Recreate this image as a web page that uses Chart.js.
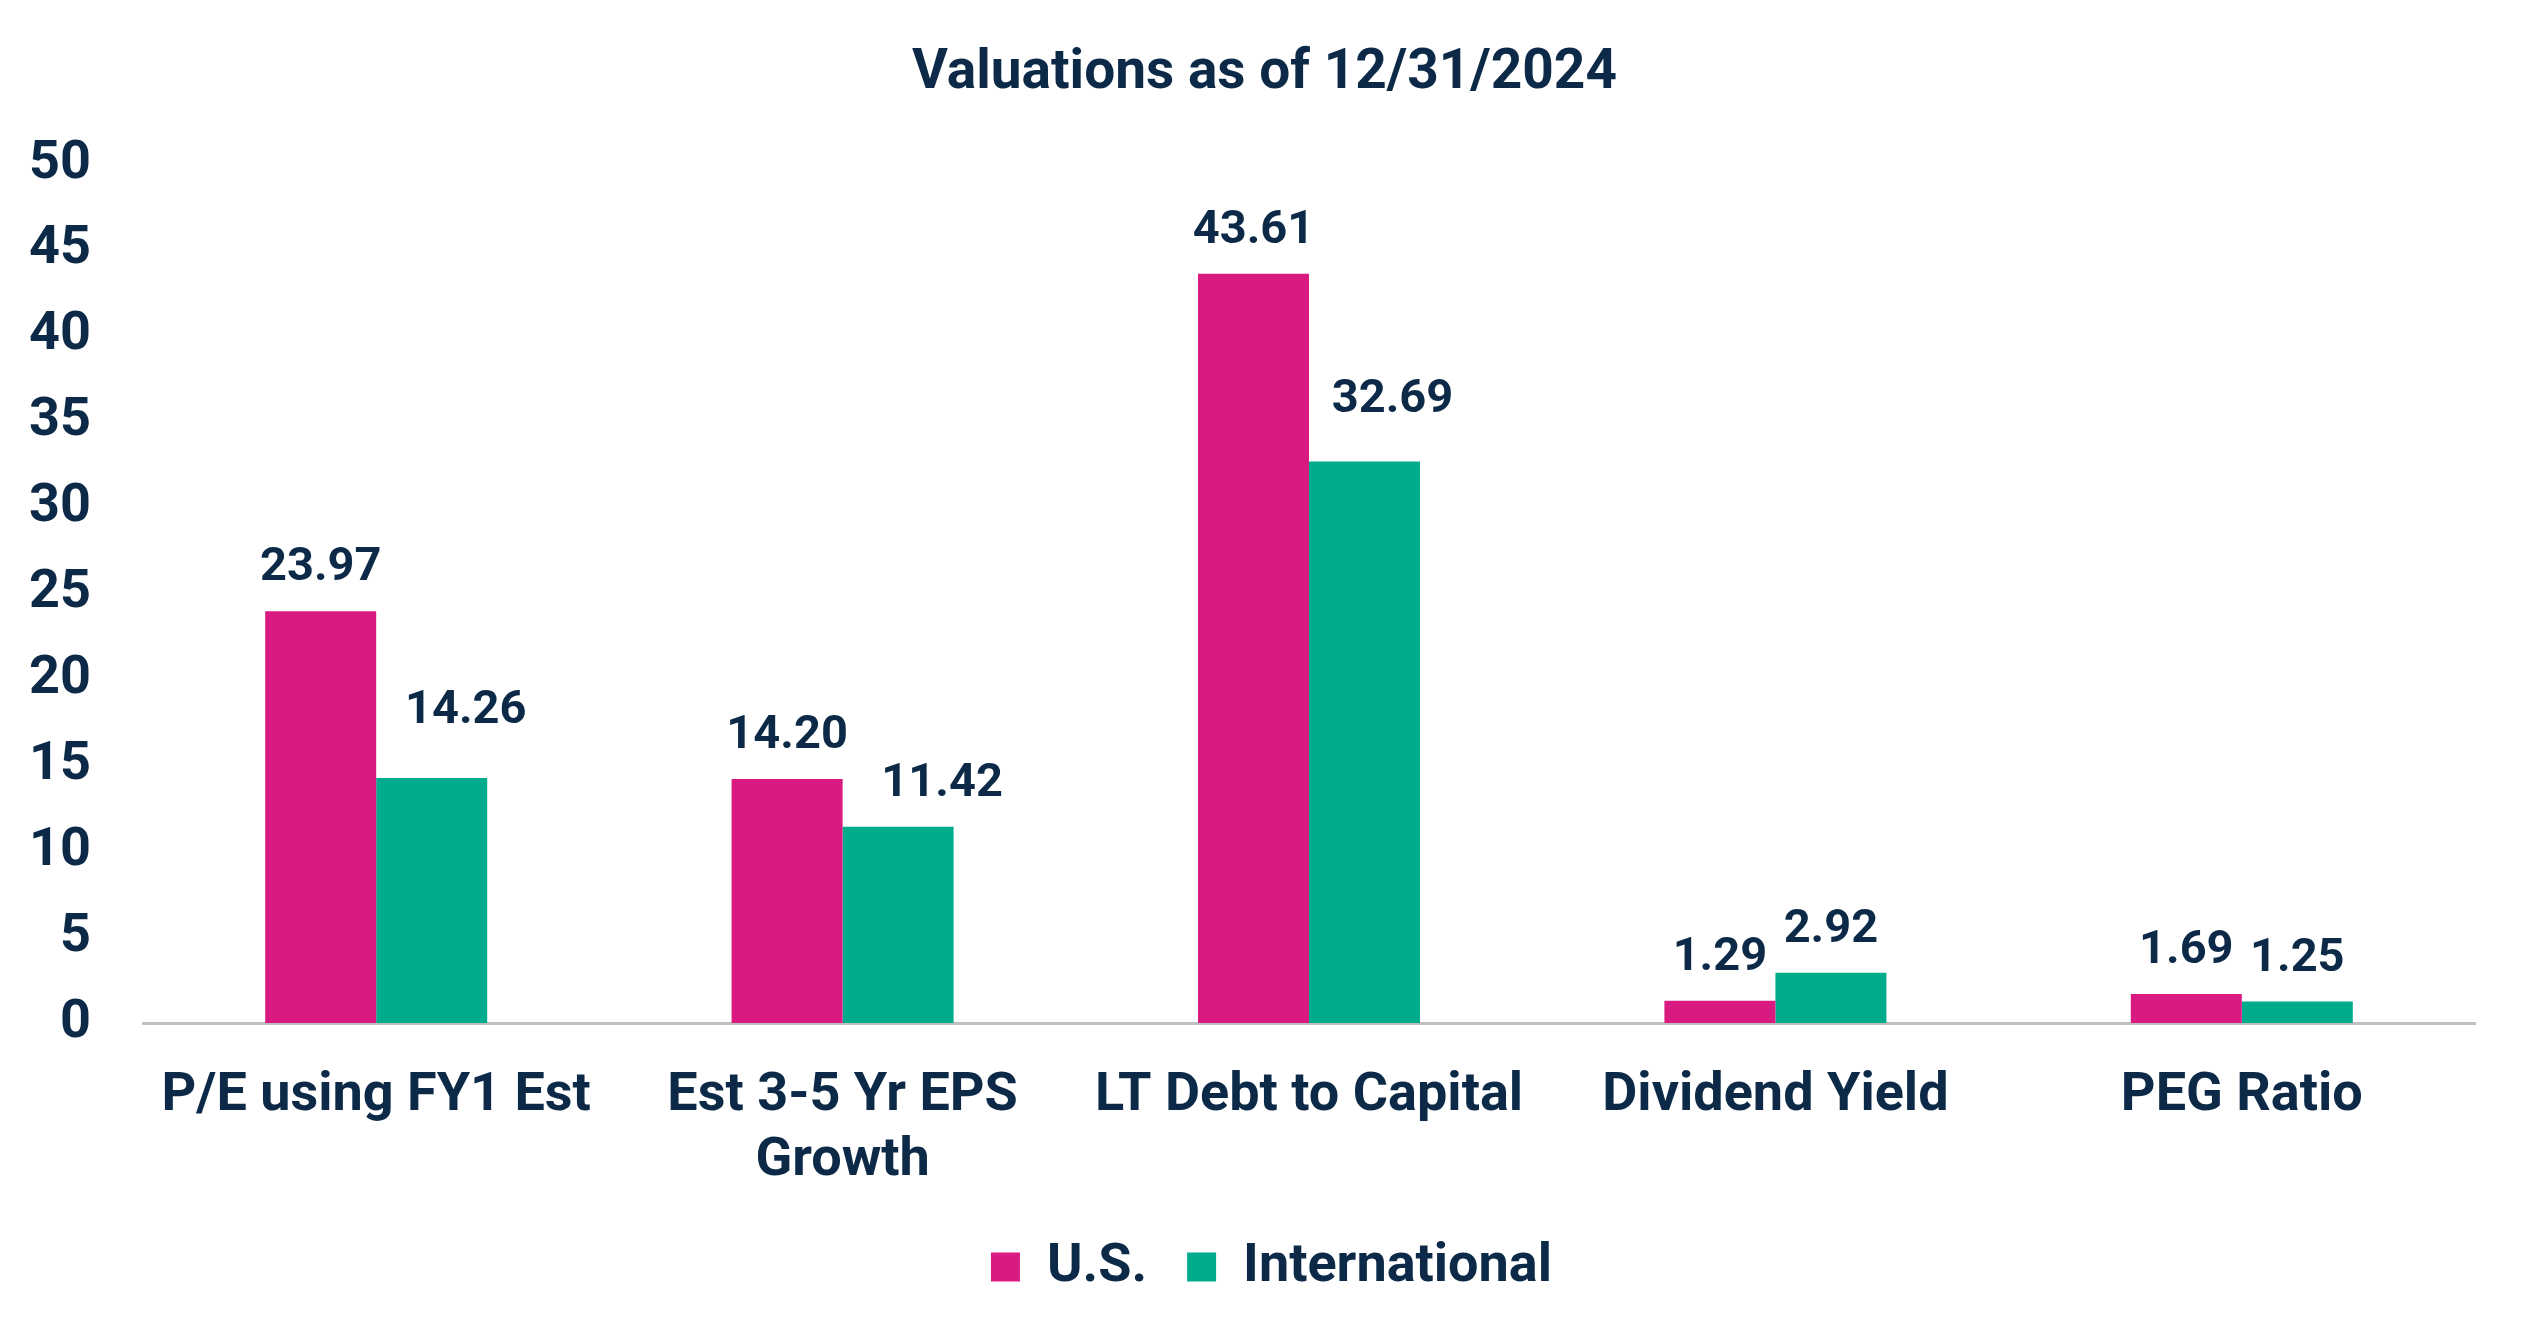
<!DOCTYPE html>
<html>
<head>
<meta charset="utf-8">
<script src="https://cdn.jsdelivr.net/npm/chart.js@4"></script>
<style>
  html, body { margin: 0; padding: 0; background: #fff; }
  #wrap { width: 2528px; height: 1340px; }
</style>
</head>
<body>
<div id="wrap"><canvas id="valuations"></canvas></div>
<script>
// data
const categories = [
  'P/E using FY1 Est',
  ['Est 3-5 Yr EPS', 'Growth'],
  'LT Debt to Capital',
  'Dividend Yield',
  'PEG Ratio'
];
const usValues = [23.97, 14.20, 43.61, 1.29, 1.69];
const intlValues = [14.26, 11.42, 32.69, 2.92, 1.25];
const yTicks = [0, 5, 10, 15, 20, 25, 30, 35, 40, 45, 50];

// some value labels were nudged by hand in the original (px, per dataset)
const labelNudgeX = [[0, 0, 0, 0, 0], [34, 44, 28, 0, 0]];
const labelNudgeY = [[0, 0, 0, 0, 0], [-24, 0, -18, 0, 0]];

const NAVY = '#0c2a48';
const PINK = '#d91a80';
const TEAL = '#01ac8d';

Chart.defaults.font.family = 'Roboto';
Chart.defaults.font.weight = 'bold';
Chart.defaults.color = NAVY;

// values above the bars
const barValues = {
  id: 'barValues',
  afterDatasetsDraw(chart) {
    const ctx = chart.ctx;
    ctx.save();
    ctx.font = 'bold 47px Roboto';
    ctx.fillStyle = NAVY;
    ctx.textAlign = 'center';
    ctx.textBaseline = 'alphabetic';
    chart.data.datasets.forEach((ds, i) => {
      chart.getDatasetMeta(i).data.forEach((bar, j) => {
        ctx.fillText(ds.data[j].toFixed(2),
          bar.x + labelNudgeX[i][j], bar.y - 31 + labelNudgeY[i][j]);
      });
    });
    ctx.restore();
  }
};

// title and legend sit a bit right of the page centre in the original
const shiftBoxes = {
  id: 'shiftBoxes',
  afterLayout(chart) {
    const t = chart.titleBlock, l = chart.legend;
    if (t) { t.left += 27; t.right += 27; }
    if (l) { l.left += 34; l.right += 34; }
  }
};

new Chart(document.getElementById('valuations'), {
  type: 'bar',
  data: {
    labels: categories,
    datasets: [
      { label: 'U.S.', data: usValues, backgroundColor: PINK },
      { label: 'International', data: intlValues, backgroundColor: TEAL }
    ]
  },
  options: {
    responsive: true,
    maintainAspectRatio: false,
    animation: false,
    categoryPercentage: 0.476,
    barPercentage: 1.0,
    layout: { padding: { left: 0, right: 53, top: 0, bottom: 36 } },
    plugins: {
      title: {
        display: true,
        text: 'Valuations as of 12/31/2024',
        color: NAVY,
        font: { size: 55, weight: 'bold' },
        padding: { top: 41, bottom: 57 }
      },
      legend: {
        position: 'bottom',
        labels: {
          color: NAVY,
          font: { size: 54, weight: 'bold' },
          boxWidth: 29,
          boxHeight: 29,
          padding: 40
        }
      },
      tooltip: { enabled: false }
    },
    scales: {
      x: {
        grid: { display: false },
        border: { display: true, color: '#bfbfbf', width: 3 },
        ticks: {
          color: NAVY,
          font: { size: 54, weight: 'bold' },
          padding: 33,
          maxRotation: 0,
          autoSkip: false
        },
        afterFit: (s) => { s.height = 177; }
      },
      y: {
        min: 0,
        max: 50,
        afterBuildTicks: (s) => { s.ticks = yTicks.map(v => ({ value: v })); },
        grid: { display: false, drawTicks: false },
        border: { display: false },
        ticks: {
          color: NAVY,
          font: { size: 54, weight: 'bold' },
          padding: 52
        },
        afterFit: (s) => { s.width = 143; }
      }
    }
  },
  plugins: [barValues, shiftBoxes]
});
</script>
</body>
</html>
